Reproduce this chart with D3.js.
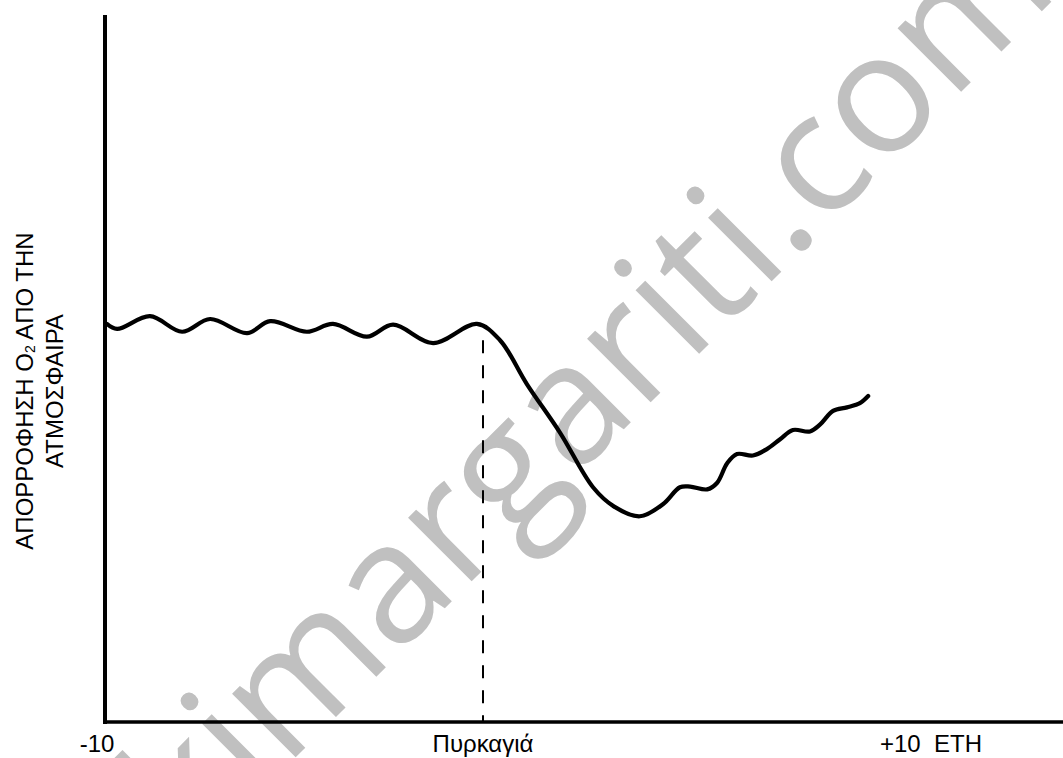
<!DOCTYPE html>
<html>
<head>
<meta charset="utf-8">
<script src="https://cdn.jsdelivr.net/npm/d3@7"></script>
<style>
  html, body { margin: 0; padding: 0; background: #ffffff; }
  svg { display: block; }
</style>
</head>
<body>
<svg id="chart" width="1063" height="758"></svg>
<script>
// ---- data ----
const years = [-9.95, -9.68, -8.81, -7.96, -7.22, -6.24, -5.63, -4.66, -3.97, -3.07, -2.38, -1.32, -0.16,
  0.45, 1.16, 2.04, 2.91, 3.46, 4.15, 4.76, 5.21, 5.48, 5.93, 6.19, 6.46, 6.72, 7.14, 7.51,
  7.86, 8.20, 8.65, 8.92, 9.26, 9.63, 9.97, 10.19];
const o2Uptake = [56.3, 55.6, 57.4, 55.2, 57.0, 55.0, 56.7, 55.2, 56.3, 54.5, 56.2, 53.6, 56.3,
  54.0, 47.8, 40.9, 33.2, 30.5, 29.1, 30.8, 33.2, 33.3, 32.9, 33.8, 36.6, 37.9, 37.7, 38.6,
  40.0, 41.3, 41.1, 42.1, 44.0, 44.5, 45.1, 46.1];
const tickValues = [-10, 0, 10];
const tickLabels = ["-10", "Πυρκαγιά", "+10\u00A0\u00A0ΕΤΗ"];
const fireYear = 0;
const fireLevel = 54;
const yTitleLines = ["ΑΠΟΡΡΟΦΗΣΗ Ο", "ΑΤΜΟΣΦΑΙΡΑ"];
const watermark = "kimargariti.com";

// ---- drawing ----
const svg = d3.select("#chart");
const x = d3.scaleLinear().domain([-10, 10]).range([105, 861]);
const y = d3.scaleLinear().domain([0, 100]).range([722, 15]);

// watermark (underneath)
svg.append("text")
  .attr("transform", "translate(627,426) rotate(-45)")
  .attr("text-anchor", "middle")
  .attr("font-family", "'Open Sans', sans-serif")
  .attr("font-size", 168)
  .attr("fill", "#c0c0c0")
  .text(watermark);

// dashed fire line
svg.append("line")
  .attr("x1", x(fireYear)).attr("x2", x(fireYear))
  .attr("y1", y(fireLevel)).attr("y2", y(0))
  .attr("stroke", "#000").attr("stroke-width", 2)
  .attr("stroke-dasharray", "13,12");

// curve
const pts = years.map((d, i) => [d, o2Uptake[i]]);
svg.append("path")
  .datum(pts)
  .attr("fill", "none")
  .attr("stroke", "#000")
  .attr("stroke-width", 4.2)
  .attr("stroke-linejoin", "round")
  .attr("stroke-linecap", "round")
  .attr("d", d3.line().x(d => x(d[0])).y(d => y(d[1])).curve(d3.curveCatmullRom.alpha(0.5)));

// axes lines
svg.append("line")
  .attr("x1", x(-10)).attr("x2", x(-10))
  .attr("y1", y(100)).attr("y2", y(0) + 2)
  .attr("stroke", "#000").attr("stroke-width", 4);
svg.append("line")
  .attr("x1", x(-10) - 2).attr("x2", 1063)
  .attr("y1", y(0)).attr("y2", y(0))
  .attr("stroke", "#000").attr("stroke-width", 3.5);

// tick labels
const tickDx = [-8, 0, 19];
const tickAnchor = ["middle", "middle", "start"];
svg.selectAll("text.tick").data(tickValues).enter().append("text")
  .attr("class", "tick")
  .attr("x", (d, i) => x(d) + tickDx[i])
  .attr("y", 752)
  .attr("text-anchor", (d, i) => tickAnchor[i])
  .attr("font-family", "'Liberation Sans', Arial, sans-serif")
  .attr("font-size", 24)
  .attr("fill", "#000")
  .text((d, i) => tickLabels[i]);

// y title
const yt = svg.append("text")
  .attr("transform", "translate(33,391) rotate(-90)")
  .attr("text-anchor", "middle")
  .attr("font-family", "'Liberation Sans', Arial, sans-serif")
  .attr("font-size", 24)
  .attr("fill", "#000");
yt.append("tspan").text(yTitleLines[0]);
yt.append("tspan").attr("font-size", 14).attr("dy", 2).text("2");
yt.append("tspan").attr("dy", -2).text(" ΑΠΟ ΤΗΝ");
svg.append("text")
  .attr("transform", "translate(63,391) rotate(-90)")
  .attr("text-anchor", "middle")
  .attr("font-family", "'Liberation Sans', Arial, sans-serif")
  .attr("font-size", 24)
  .attr("fill", "#000")
  .text(yTitleLines[1]);
</script>
</body>
</html>
